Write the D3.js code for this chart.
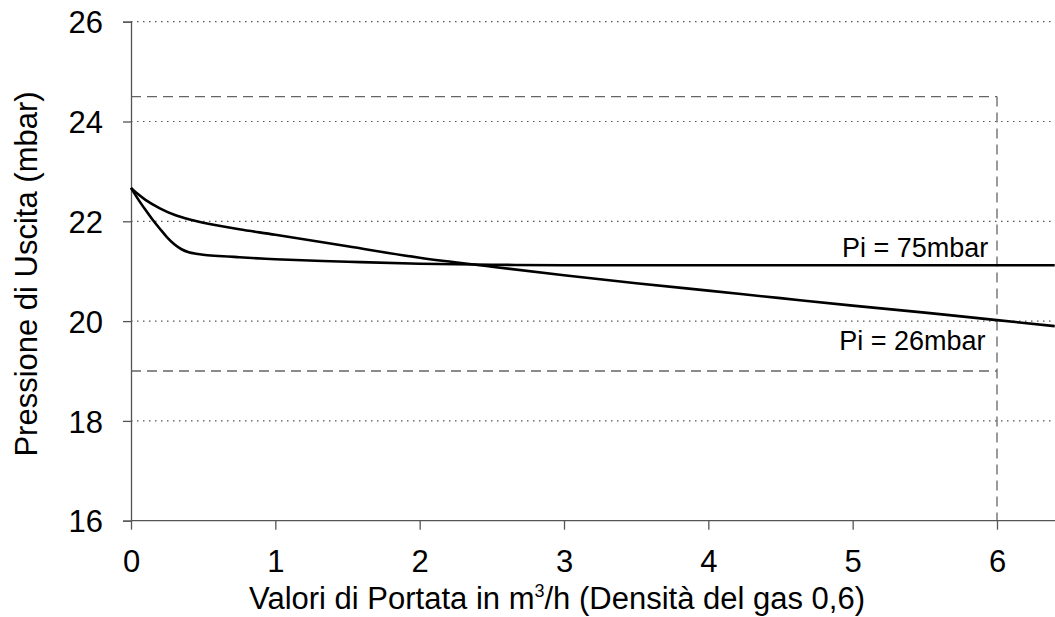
<!DOCTYPE html>
<html><head><meta charset="utf-8">
<script src="https://cdn.jsdelivr.net/npm/d3@7"></script>
<style>body{margin:0;background:#fff}svg{display:block}text{font-family:"Liberation Sans",Arial,sans-serif;fill:#000}</style>
</head><body>
<svg id="c" width="1055" height="617"></svg>
<script>
const xTicks = [0,1,2,3,4,5,6];
const yTicks = [16,18,20,22,24,26];
const pi26X = [0,0.05,0.1,0.2,0.3,0.4,0.5,0.75,1,1.5,2,2.5,3,3.5,4,4.5,5,5.5,6,6.4];
const pi26Y = [22.67,22.54,22.43,22.26,22.13,22.04,21.97,21.84,21.73,21.5,21.27,21.09,20.92,20.76,20.61,20.46,20.31,20.17,20.02,19.9];
const pi75X = [0,0.05,0.1,0.15,0.2,0.25,0.3,0.35,0.4,0.45,0.5,0.75,1,1.5,2,2.5,3,4,5,6,6.4];
const pi75Y = [22.67,22.44,22.23,22.03,21.85,21.68,21.54,21.44,21.38,21.35,21.33,21.28,21.24,21.19,21.15,21.13,21.12,21.12,21.12,21.12,21.12];
const limitHigh = 24.5, limitLow = 19, limitFlow = 6;
const labels = [{text:"Pi = 75mbar", x:5.94, y:21.29},{text:"Pi = 26mbar", x:5.92, y:19.42}];

const svg = d3.select("#c");
const x = d3.scaleLinear().domain([0,6]).range([131,997]);
const y = d3.scaleLinear().domain([16,26]).range([520.7,21.7]);

// gridlines
svg.append("g").selectAll("line").data(yTicks.filter(d=>d>16)).join("line")
  .attr("x1",x(0)).attr("x2",1055).attr("y1",d=>y(d)).attr("y2",d=>y(d))
  .attr("stroke","#555").attr("stroke-width",1.2).attr("stroke-dasharray","1.5,4.5");

// dashed limit lines
const dash = svg.append("g").attr("stroke","#666").attr("stroke-width",1.3).attr("stroke-dasharray","10,6").attr("fill","none");
dash.append("line").attr("x1",x(0)).attr("x2",x(limitFlow)).attr("y1",y(limitHigh)).attr("y2",y(limitHigh));
dash.append("line").attr("x1",x(0)).attr("x2",x(limitFlow)).attr("y1",y(limitLow)).attr("y2",y(limitLow));
dash.append("line").attr("x1",x(limitFlow)).attr("x2",x(limitFlow)).attr("y1",y(limitHigh)).attr("y2",y(16));

// axes
const gx = svg.append("g").attr("transform",`translate(0,${y(16)})`)
  .call(d3.axisBottom(x).tickValues(xTicks).tickSize(9).tickPadding(20).tickFormat(d3.format("d")));
gx.select(".domain").attr("d",`M${x(0)},0H1055`);
const gy = svg.append("g").attr("transform",`translate(${x(0)},0)`)
  .call(d3.axisLeft(y).tickValues(yTicks).tickSize(8).tickPadding(20).tickFormat(d3.format("d")));
[gx,gy].forEach(g=>{
  g.selectAll(".domain,line").attr("stroke","#555").attr("stroke-width",1.3);
  g.selectAll("text").attr("font-size",31).attr("font-family","Liberation Sans, Arial, sans-serif");
});
gy.selectAll("text").attr("dy","0.36em");

// curves
const line = d3.line().x(d=>x(d[0])).y(d=>y(d[1])).curve(d3.curveCatmullRom.alpha(0.5));
svg.append("path").datum(pi26X.map((v,i)=>[v,pi26Y[i]])).attr("d",line)
  .attr("fill","none").attr("stroke","#000").attr("stroke-width",2.6);
svg.append("path").datum(pi75X.map((v,i)=>[v,pi75Y[i]])).attr("d",line)
  .attr("fill","none").attr("stroke","#000").attr("stroke-width",2.6);

// labels
svg.selectAll("text.lbl").data(labels).join("text").attr("class","lbl")
  .attr("x",d=>x(d.x)).attr("y",d=>y(d.y)).attr("text-anchor","end")
  .attr("font-size",27).text(d=>d.text);

// axis titles
const xt = svg.append("text").attr("x",557).attr("y",609).attr("text-anchor","middle").attr("font-size",31);
xt.append("tspan").text("Valori di Portata in m");
xt.append("tspan").attr("font-size",18).attr("dy",-12).text("3");
xt.append("tspan").attr("dy",12).text("/h (Densità del gas 0,6)");
svg.append("text").attr("transform",`translate(37,274) rotate(-90)`)
  .attr("text-anchor","middle").attr("font-size",31).text("Pressione di Uscita (mbar)");
</script>
</body></html>
